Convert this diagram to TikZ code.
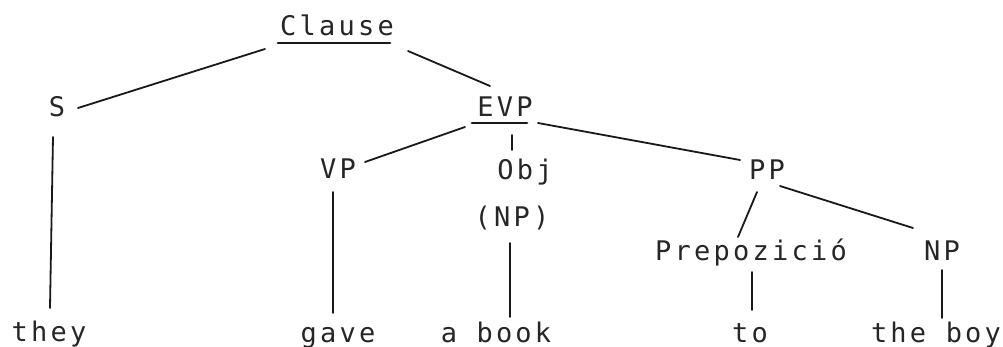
\documentclass[tikz,border=0pt]{standalone}
\usepackage{fontspec}
% typewriter-like monospaced face with wide letter pitch
\newfontfamily\typewriter[LetterSpace=12]{DejaVu Sans Mono}
% connector between two labels, each end given as an offset from the label's base point
\newcommand\treelink[6]{\draw[edge] ([shift={(#2,#3)}]#1.base) -- ([shift={(#5,#6)}]#4.base);}
\begin{document}
\begin{tikzpicture}[x=1pt,y=-1pt,
  lbl/.style={anchor=base,inner sep=0pt,font=\typewriter\fontsize{27}{32}\selectfont,text=black!85},
  edge/.style={line width=1.8pt,line cap=round,black!90},
  uline/.style={line width=2.8pt,line cap=round,black!90}]
\useasboundingbox (0,0) rectangle (1003,347);

% labels
\node[lbl] (clause) at (337,36)  {Clause};
\node[lbl] (s)      at (57,117)  {S};
\node[lbl] (evp)    at (505,117) {EVP};
\node[lbl] (vp)     at (338,179) {VP};
\node[lbl] (obj)    at (525,180) {Obj};
\node[lbl] (objnp)  at (512,227) {(NP)};
\node[lbl] (pp)     at (767,180) {PP};
\node[lbl] (prep)   at (751,260) {Prepozició};
\node[lbl] (np)     at (942,260) {NP};
\node[lbl] (they)   at (49,341)  {they};
\node[lbl] (gave)   at (338,342) {gave};
\node[lbl] (abook)  at (496,342) {a book};
\node[lbl] (to)     at (750,342) {to};
\node[lbl] (boy)    at (936,342) {the boy};

% underlined heads
\draw[uline] ([shift={(-59,7)}]clause.base) -- ([shift={(53,7)}]clause.base);
\draw[uline] ([shift={(-33,6)}]evp.base) -- ([shift={(22,6)}]evp.base);

% branches
\treelink{clause}{-72}{13}{s}{21}{-9}
\treelink{clause}{71}{15}{evp}{-15}{-31}
\treelink{evp}{-40}{10}{vp}{27}{-17}
\treelink{evp}{7}{18}{obj}{-13}{-30}
\treelink{evp}{33}{6}{pp}{-27}{-20}
\treelink{pp}{-10}{12}{prep}{-13}{-23}
\treelink{pp}{13}{6}{np}{-29}{-32}
\treelink{s}{-4}{20}{they}{1}{-33}
\treelink{vp}{-5}{13}{gave}{-5}{-29}
\treelink{objnp}{-2}{16}{abook}{14}{-25}
\treelink{prep}{1}{12}{to}{2}{-32}
\treelink{np}{0}{10}{boy}{6}{-24}
\end{tikzpicture}
\end{document}
